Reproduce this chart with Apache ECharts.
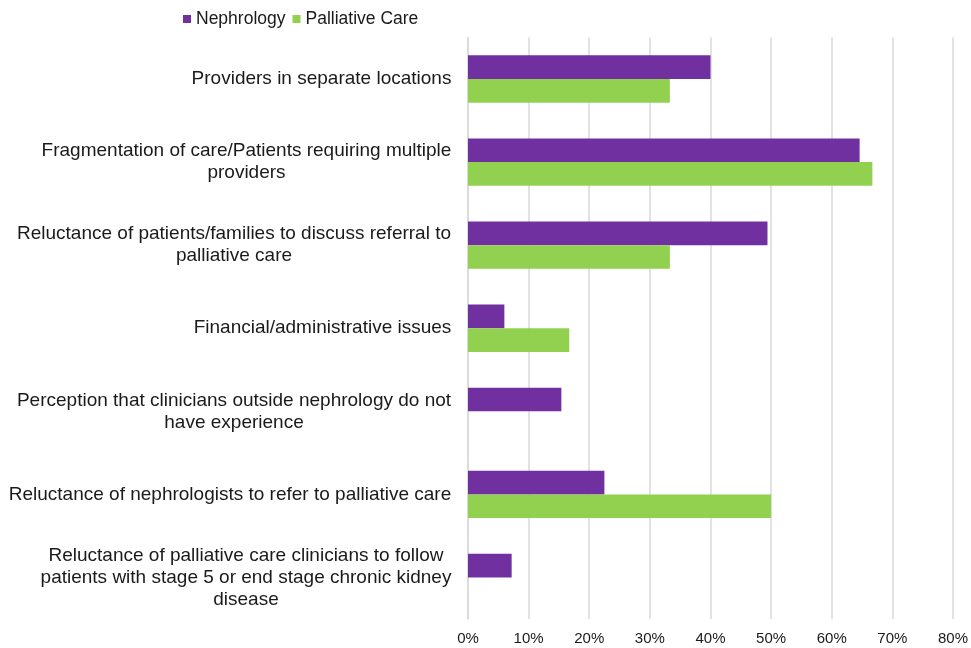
<!DOCTYPE html>
<html>
<head>
<meta charset="utf-8">
<script src="https://cdn.jsdelivr.net/npm/echarts@6/dist/echarts.min.js"></script>
<style>html,body{margin:0;padding:0;background:#fff;}#chart{width:971px;height:648px;}</style>
</head>
<body>
<div id="chart"></div>
<script>
var categories = [
  "Providers in separate locations",
  "Fragmentation of care/Patients requiring multiple\nproviders",
  "Reluctance of patients/families to discuss referral to\npalliative care",
  "Financial/administrative issues",
  "Perception that clinicians outside nephrology do not\nhave experience",
  "Reluctance of nephrologists to refer to palliative care",
  "Reluctance of palliative care clinicians to follow\npatients with stage 5 or end stage chronic kidney\ndisease"
];
var nephrology = [40.0, 64.6, 49.4, 6.0, 15.4, 22.5, 7.2];
var palliativeCare = [33.3, 66.7, 33.3, 16.7, 0, 50.0, 0];
var xTicks = [0, 10, 20, 30, 40, 50, 60, 70, 80];

var FONT = '"Liberation Sans", Arial, Helvetica, sans-serif';
var LABEL_SIZE = 19;
var canvas = document.createElement('canvas');
var ctx = canvas.getContext('2d');
ctx.font = LABEL_SIZE + 'px ' + FONT;

var rich = {};
var catKeys = categories.map(function (c, i) {
  var lines = c.split('\n');
  var w = 0;
  lines.forEach(function (l) { w = Math.max(w, ctx.measureText(l).width); });
  rich['r' + i] = { width: Math.ceil(w) + 1, align: 'center', fontSize: LABEL_SIZE, lineHeight: 22, color: '#1a1a1a', fontFamily: FONT };
  return i;
});

var chart = echarts.init(document.getElementById('chart'));
chart.setOption({
  animation: false,
  backgroundColor: '#ffffff',
  textStyle: { fontFamily: FONT },
  legend: {
    left: 178, top: 5,
    icon: 'rect', itemWidth: 8, itemHeight: 8, itemGap: 7,
    itemStyle: { borderWidth: 0 },
    textStyle: { fontSize: 17.5, color: '#1a1a1a', fontFamily: FONT },
    data: ['Nephrology', 'Palliative Care']
  },
  grid: { left: 468, right: 16, top: 37.5, bottom: 29, containLabel: false },
  xAxis: {
    type: 'value', min: xTicks[0], max: xTicks[xTicks.length - 1], interval: 10,
    axisLine: { show: false }, axisTick: { show: false },
    splitLine: { show: true, lineStyle: { color: '#d9d9d9', width: 1.5 } },
    axisLabel: { formatter: '{value}%', fontSize: 15, color: '#1a1a1a', margin: 12, fontFamily: FONT }
  },
  yAxis: {
    type: 'category', inverse: true,
    data: catKeys,
    axisLine: { show: true, lineStyle: { color: '#d9d9d9', width: 1.5 } },
    axisTick: { show: false },
    axisLabel: {
      margin: 16, align: 'right', interval: 0,
      formatter: function (v) {
        var i = Number(v);
        return categories[i].split('\n').map(function (l) { return '{r' + i + '|' + l + '}'; }).join('\n');
      },
      rich: rich
    }
  },
  series: [
    { name: 'Nephrology', type: 'bar', data: nephrology, barGap: '0%', barCategoryGap: '43%',
      itemStyle: { color: '#7030a0' } },
    { name: 'Palliative Care', type: 'bar', data: palliativeCare, barGap: '0%', barCategoryGap: '43%',
      itemStyle: { color: '#92d050' } }
  ]
});
</script>
</body>
</html>
